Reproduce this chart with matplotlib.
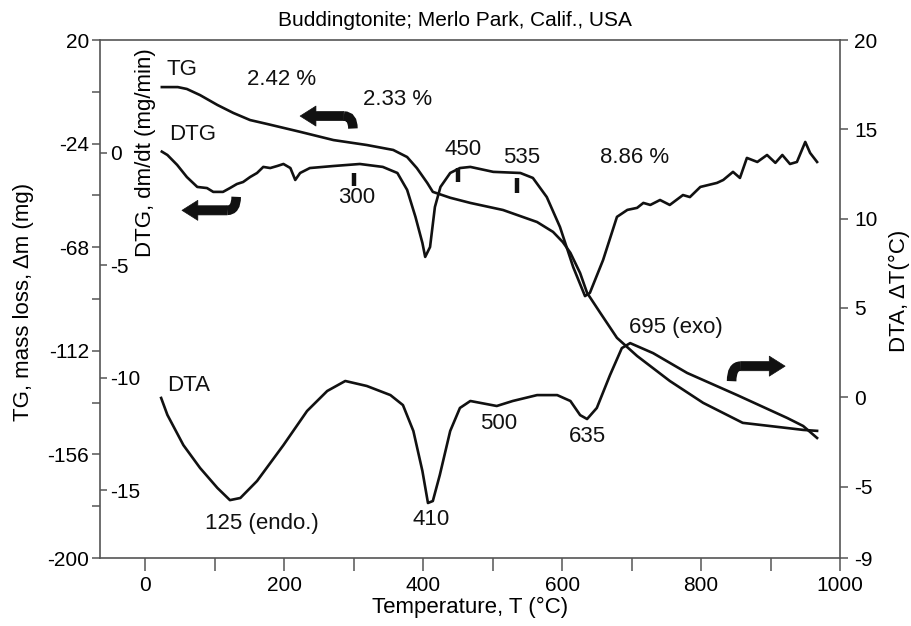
import matplotlib
matplotlib.use("Agg")
import matplotlib.pyplot as plt
from matplotlib.ticker import FixedLocator, MultipleLocator
from matplotlib.patches import PathPatch
from matplotlib.path import Path

plt.rcParams['font.family'] = ['Liberation Sans', 'DejaVu Sans']
plt.rcParams['axes.unicode_minus'] = False

# ---------------- data ----------------
tg_T = [24, 47, 60, 79, 104, 127, 151, 176, 223, 271, 319, 357, 377, 391, 406, 414,
        439, 468, 515, 564, 587, 601, 612, 626, 636, 655, 679, 708, 755, 803, 860,
        924, 947, 967]
tg_m = [0, 0, -0.8, -3.4, -7.6, -11, -14, -15.7, -19, -22.5, -24.6, -26.7, -29.7,
        -34.4, -40.7, -44.5, -47, -49.2, -52.2, -57.3, -61.5, -65.8, -70.4, -79,
        -87.4, -95.9, -106.5, -114.2, -124.8, -134.1, -142.6, -144.8, -145.6, -146]

dtg_T = [24, 32, 46, 60, 75, 89, 98, 112, 122, 132, 141, 151, 161, 170, 180, 190,
         199, 209, 216, 223, 237, 271, 309, 342, 363, 377, 389, 399, 403, 410, 417,
         425, 439, 453, 468, 501, 540, 558, 578, 597, 616, 633, 640, 659, 679, 694,
         708, 717, 727, 741, 755, 774, 784, 799, 823, 832, 846, 856, 866, 881, 895,
         907, 917, 928, 938, 950, 957, 967]
dtg_v = [0.06, -0.09, -0.53, -1.07, -1.51, -1.56, -1.73, -1.73, -1.56, -1.38, -1.29,
         -1.07, -0.89, -0.62, -0.67, -0.58, -0.49, -0.67, -1.2, -0.89, -0.67, -0.58,
         -0.49, -0.62, -0.89, -1.64, -2.84, -4.0, -4.62, -4.18, -2.4, -1.51, -0.89,
         -0.67, -0.62, -0.84, -0.89, -1.11, -1.96, -3.29, -5.07, -6.36, -6.22, -4.76,
         -2.84, -2.53, -2.44, -2.22, -2.31, -2.09, -2.31, -1.87, -1.96, -1.51, -1.33,
         -1.2, -0.84, -1.11, -0.22, -0.4, -0.09, -0.44, -0.09, -0.49, -0.4, 0.49,
         0.0, -0.4]

dta_T = [23, 32, 55, 79, 104, 122, 137, 161, 199, 233, 262, 288, 319, 353, 371, 386,
         399, 407, 414, 424, 439, 453, 468, 506, 529, 564, 593, 612, 626, 636, 650,
         669, 686, 698, 731, 780, 852, 924, 947, 967]
dta_v = [-0.04, -0.99, -2.68, -3.96, -5.08, -5.76, -5.64, -4.69, -2.68, -0.77, 0.35,
         0.91, 0.63, 0.12, -0.44, -1.89, -4.13, -5.92, -5.81, -4.36, -1.89, -0.6,
         -0.21, -0.49, -0.21, 0.12, 0.12, -0.21, -1.0, -1.22, -0.6, 1.24, 2.75, 3.03,
         2.47, 1.36, 0.12, -1.16, -1.61, -2.28]

mark_T = [300, 450, 535]
mark_top = [-0.9, -0.65, -1.1]
mark_bot = [-1.45, -1.3, -1.78]

x_ticks = [0, 200, 400, 600, 800, 1000]
tg_ticks = [20, -24, -68, -112, -156, -200]
dtg_ticks = [0, -5, -10, -15]
dta_ticks = [20, 15, 10, 5, 0, -5, -9]

# ---------------- figure ----------------
W, H = 911, 626
fig = plt.figure(figsize=(W / 100, H / 100), dpi=100)
ax = fig.add_axes([100 / W, 1 - 558 / H, 740 / W, 518 / H])
ax_dtg = ax.twinx()
ax_dta = ax.twinx()

LC = '#111111'
SC = '#555555'
LW = 1.9
FS_TICK = 15
FS_LAB = 16
FS_NOTE = 16

ax.plot(tg_T, tg_m, color=LC, lw=LW, solid_joinstyle='round')
ax_dtg.plot(dtg_T, dtg_v, color=LC, lw=LW, solid_joinstyle='round')
ax_dta.plot(dta_T, dta_v, color=LC, lw=LW, solid_joinstyle='round')
ax_dtg.vlines(mark_T, mark_bot, mark_top, color=LC, lw=3.2)

ax.set_xlim(-65, 1000)
ax.set_ylim(-200, 20)
ax_dtg.set_ylim(-18, 5.02)
ax_dta.set_ylim(-9, 20)

# x axis
ax.set_xticks(x_ticks)
ax.xaxis.set_minor_locator(MultipleLocator(100))
ax.tick_params(axis='x', which='both', direction='out', length=9, width=1.1,
               color=SC, labelsize=FS_TICK, pad=4)

# TG axis (left)
ax.set_yticks(tg_ticks)
ax.yaxis.set_minor_locator(FixedLocator([(a + b) / 2 for a, b in zip(tg_ticks[:-1], tg_ticks[1:])]))
ax.tick_params(axis='y', which='both', direction='out', length=6, width=1.1,
               color=SC, labelsize=FS_TICK, pad=2)
for s in ax.spines.values():
    s.set_color(SC)
    s.set_linewidth(1.2)

# DTG axis (inner left)
ax_dtg.yaxis.tick_left()
ax_dtg.set_yticks(dtg_ticks)
ax_dtg.tick_params(axis='y', direction='in', length=5, width=1.1, color=SC,
                   labelsize=FS_TICK, pad=-7)
for lab in ax_dtg.get_yticklabels():
    lab.set_horizontalalignment('left')
for s in ax_dtg.spines.values():
    s.set_visible(False)

# DTA axis (right)
ax_dta.set_yticks(dta_ticks)
ax_dta.tick_params(axis='y', direction='out', length=6, width=1.1, color=SC,
                   labelsize=FS_TICK, pad=4)
for s in ax_dta.spines.values():
    s.set_visible(False)

# axis labels
ax.set_xlabel('Temperature, T (°C)', fontsize=FS_LAB)
ax.xaxis.set_label_coords(0.5, -(607 - 558) / 518)
ax.xaxis.label.set_va('center')

ax.set_ylabel('TG, mass loss, \u0394m (mg)', fontsize=FS_LAB)
ax.yaxis.set_label_coords(-(100 - 24) / 740, 0.494)
ax.yaxis.label.set_va('center')

ax_dtg.set_ylabel('DTG, dm/dt (mg/min)', fontsize=FS_LAB)
ax_dtg.yaxis.set_label_position('left')
ax_dtg.yaxis.set_label_coords((145 - 100) / 740, 0.782)
ax_dtg.yaxis.label.set_va('center')

ax_dta.set_ylabel('DTA, \u0394T(°C)', fontsize=FS_LAB)
ax_dta.yaxis.set_label_coords((899 - 100) / 740, 0.515)
ax_dta.yaxis.label.set_va('center')
ax_dta.yaxis.label.set_rotation(90)

fig.text(455 / W, 1 - 21 / H, 'Buddingtonite; Merlo Park, Calif., USA',
         ha='center', va='center', fontsize=15)

# annotations (TG data coordinates)
notes = [
    ('TG', 53, 7.3), ('DTG', 68, -20.3), ('2.42 %', 197, 3.4), ('2.33 %', 363, -5.1),
    ('300', 305, -47.1), ('450', 458, -26.3), ('535', 542, -30.1), ('8.86 %', 704, -30.1),
    ('DTA', 63, -126.9), ('125 (endo.)', 168, -185.5), ('410', 411, -183.8),
    ('500', 508, -143), ('635', 637, -148.6), ('695 (exo)', 764, -102.3),
]
for txt, x, y in notes:
    ax.text(x, y, txt, ha='center', va='center', fontsize=FS_NOTE, color=LC)

# hooked bold arrows: straight shaft + curled tail
MS = 12
astyle = 'simple,head_length=0.95,head_width=1.2,tail_width=0.55'


def hook_arrow(a, head, corner, ctrl, tail):
    a.annotate('', xy=head, xytext=corner,
               arrowprops=dict(arrowstyle=astyle, connectionstyle='arc3,rad=0',
                               fc=LC, ec=LC, lw=0.5, shrinkA=0, shrinkB=0,
                               mutation_scale=MS))
    p = Path([corner, ctrl, tail], [Path.MOVETO, Path.CURVE3, Path.CURVE3])
    a.add_patch(PathPatch(p, fill=False, ec=LC, lw=0.55 * MS + 0.3,
                          capstyle='butt', transform=a.transData))


hook_arrow(ax, (223, -12.3), (286, -12.3), (299, -12.3), (299, -17.6))
hook_arrow(ax_dtg, (53, -2.55), (118, -2.55), (131, -2.55), (131, -1.95))
hook_arrow(ax_dta, (921, 1.74), (857, 1.74), (844, 1.74), (844, 0.9))

fig.savefig('out.png', dpi=100)
